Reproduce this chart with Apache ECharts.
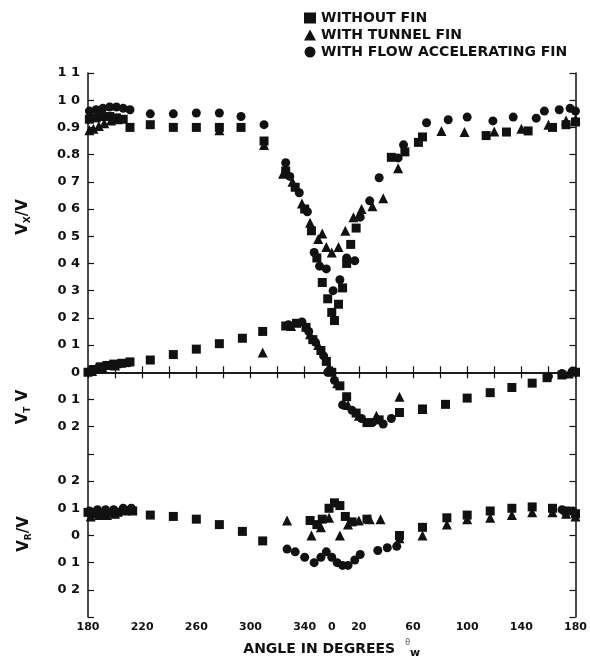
<!DOCTYPE html>
<html>
<head>
    <meta charset="UTF-8">
    <title>Velocity components vs angle</title>
    <script src="https://cdn.jsdelivr.net/npm/echarts@6.0.0/dist/echarts.min.js"></script>
    <style>
        html, body { margin: 0; padding: 0; background: #fff; }
    </style>
</head>
<body>
<div id="main" style="width: 590px;height:664px;"></div>
<script type="text/javascript">
    // angle is unwrapped: 180..359 then 360 (=0) .. 540 (=180)
    var xTickLabels = ['180', '', '220', '', '260', '', '300', '', '340', '0', '20', '', '60', '', '100', '', '140', '', '180'];
    // y tick labels from -0.9 (bottom) up to 1.1 (top), VT shares the Vx scale, VR is shifted down 0.6
    var yTickLabels = ['', '0 2', '0 1', '0', '0 1', '0 2', '', '0 2', '0 1', '0', '0 1', '0 2', '0 3', '0 4', '0 5', '0 6', '0 7', '0.8', '0.9', '1 0', '1 1'];
    var VR_OFFSET = -0.6;

    var names = ['WITHOUT FIN', 'WITH TUNNEL FIN', 'WITH FLOW ACCELERATING FIN'];

    // Vx/V
    var vxWithoutFin = [[181, 0.93], [186, 0.935], [191, 0.94], [196, 0.94], [201, 0.935], [206, 0.93], [211, 0.90], [226, 0.91], [243, 0.90], [260, 0.90], [277, 0.90], [293, 0.90], [310, 0.85], [326, 0.74], [333, 0.68], [340, 0.60], [345, 0.52], [349, 0.42], [353, 0.33], [357, 0.27], [360, 0.22], [362, 0.19], [365, 0.25], [368, 0.31], [371, 0.40], [374, 0.47], [378, 0.53], [404, 0.79], [414, 0.81], [424, 0.845], [427, 0.865], [474, 0.87], [489, 0.883], [505, 0.887], [523, 0.90], [533, 0.91], [540, 0.92]];
    var vxTunnelFin = [[181, 0.89], [184, 0.895], [188, 0.905], [192, 0.915], [197, 0.925], [202, 0.93], [277, 0.89], [310, 0.835], [324, 0.73], [331, 0.70], [338, 0.62], [344, 0.55], [350, 0.49], [353, 0.51], [356, 0.46], [360, 0.44], [365, 0.46], [370, 0.52], [376, 0.57], [382, 0.60], [390, 0.61], [398, 0.64], [409, 0.75], [441, 0.887], [458, 0.883], [480, 0.885], [500, 0.895], [520, 0.91], [533, 0.925], [540, 0.93]];
    var vxFlowFin = [[181, 0.96], [186, 0.965], [191, 0.97], [196, 0.975], [201, 0.975], [206, 0.97], [211, 0.965], [226, 0.95], [243, 0.95], [260, 0.953], [277, 0.953], [293, 0.94], [310, 0.91], [326, 0.77], [329, 0.72], [336, 0.66], [342, 0.59], [347, 0.44], [351, 0.39], [356, 0.38], [361, 0.30], [366, 0.34], [371, 0.42], [377, 0.41], [381, 0.57], [388, 0.63], [395, 0.715], [409, 0.788], [413, 0.836], [430, 0.917], [446, 0.928], [460, 0.938], [479, 0.924], [494, 0.938], [511, 0.934], [517, 0.96], [528, 0.965], [536, 0.97], [540, 0.96]];

    // VT/V
    var vtWithoutFin = [[180, 0.0], [184, 0.01], [189, 0.02], [194, 0.025], [199, 0.03], [205, 0.033], [211, 0.038], [226, 0.045], [243, 0.065], [260, 0.085], [277, 0.105], [294, 0.125], [309, 0.15], [326, 0.17], [334, 0.18], [341, 0.165], [346, 0.12], [352, 0.08], [356, 0.04], [360, 0.0], [366, -0.05], [371, -0.09], [378, -0.15], [386, -0.185], [395, -0.175], [410, -0.148], [427, -0.135], [444, -0.118], [460, -0.095], [477, -0.075], [493, -0.056], [508, -0.04], [519, -0.02], [530, -0.01], [540, 0.0]];
    var vtTunnelFin = [[183, 0.005], [191, 0.015], [200, 0.025], [309, 0.073], [330, 0.17], [344, 0.14], [350, 0.10], [358, 0.02], [364, -0.04], [372, -0.12], [380, -0.16], [393, -0.16], [410, -0.09], [427, -0.135], [535, -0.005]];
    var vtFlowFin = [[182, 0.005], [187, 0.015], [195, 0.025], [203, 0.03], [210, 0.035], [328, 0.175], [338, 0.185], [343, 0.15], [348, 0.11], [354, 0.06], [357, 0.0], [362, -0.03], [368, -0.12], [375, -0.14], [382, -0.17], [390, -0.185], [398, -0.19], [404, -0.17], [520, -0.015], [530, -0.005], [538, 0.005]];

    // VR/V
    var vrWithoutFin = [[180, 0.085], [185, 0.08], [190, 0.08], [196, 0.085], [202, 0.085], [208, 0.09], [213, 0.09], [226, 0.075], [243, 0.07], [260, 0.06], [277, 0.04], [294, 0.015], [309, -0.02], [344, 0.055], [349, 0.04], [353, 0.06], [358, 0.1], [362, 0.12], [366, 0.11], [370, 0.07], [375, 0.05], [386, 0.06], [410, 0.0], [427, 0.03], [445, 0.065], [460, 0.075], [477, 0.09], [493, 0.1], [508, 0.105], [523, 0.1], [533, 0.09], [540, 0.08]];
    var vrTunnelFin = [[182, 0.07], [188, 0.075], [194, 0.075], [200, 0.08], [327, 0.055], [345, 0.0], [352, 0.03], [358, 0.065], [366, 0.0], [372, 0.04], [380, 0.055], [388, 0.06], [396, 0.06], [410, -0.01], [427, 0.0], [445, 0.04], [460, 0.06], [477, 0.065], [493, 0.075], [508, 0.085], [523, 0.085], [533, 0.08], [540, 0.07]];
    var vrFlowFin = [[181, 0.09], [187, 0.095], [193, 0.095], [199, 0.095], [206, 0.1], [212, 0.1], [327, -0.05], [333, -0.06], [340, -0.08], [347, -0.1], [352, -0.08], [356, -0.06], [360, -0.08], [364, -0.1], [368, -0.11], [372, -0.11], [377, -0.09], [381, -0.07], [394, -0.055], [401, -0.045], [408, -0.04], [530, 0.095], [538, 0.09]];

    var FONT = 'DejaVu Sans';
    var INK = '#111';

    function mk(idx, symbol, size, data, offset) {
        return {
            name: names[idx],
            type: 'scatter',
            symbol: symbol,
            symbolSize: size,
            itemStyle: {color: INK, opacity: 1},
            data: data.map(function (p) {
                return [p[0], p[1] + offset];
            })
        };
    }

    function yName(x, y, sub, sep) {
        return {
            type: 'text',
            x: x,
            y: y,
            rotation: Math.PI / 2,
            style: {
                text: '{v|V}{s|' + sub + '}{v|' + sep + 'V}',
                align: 'center',
                verticalAlign: 'middle',
                fill: INK,
                rich: {
                    v: {fontFamily: FONT, fontWeight: 'bold', fontSize: 15, fill: INK, lineHeight: 18},
                    s: {fontFamily: FONT, fontWeight: 'bold', fontSize: 9, fill: INK, lineHeight: 18, verticalAlign: 'bottom', padding: [8, 0, 0, 0]}
                }
            }
        };
    }

    var axisLine = {lineStyle: {color: INK, width: 1.5}};
    var axisTick = {inside: true, length: 6, lineStyle: {color: INK, width: 1.2}};

    echarts.init(document.getElementById('main')).setOption({
        animation: false,
        backgroundColor: '#fff',
        grid: {left: 88, right: 12, top: 73, bottom: 46},
        legend: {
            orient: 'vertical',
            left: 299,
            top: 6,
            itemGap: 3,
            itemWidth: 12,
            itemHeight: 11,
            textStyle: {fontFamily: FONT, fontWeight: 'bold', fontSize: 14, color: INK},
            data: [
                {name: names[0], icon: 'rect'},
                {name: names[1], icon: 'triangle'},
                {name: names[2], icon: 'circle'}
            ]
        },
        xAxis: [{
            type: 'value',
            position: 'bottom',
            min: 180,
            max: 540,
            interval: 20,
            axisLine: axisLine,
            axisTick: axisTick,
            splitLine: {show: false},
            axisLabel: {
                interval: 0,
                margin: 5,
                color: INK,
                fontFamily: FONT,
                fontWeight: 'bold',
                fontSize: 11,
                formatter: function (v) {
                    return xTickLabels[Math.round((v - 180) / 20)];
                }
            },
            name: '{a|ANGLE IN DEGREES}   {b|θ}{c|w}',
            nameLocation: 'middle',
            nameGap: 20,
            nameTextStyle: {
                rich: {
                    a: {fontFamily: FONT, fontWeight: 'bold', fontSize: 14, color: INK, lineHeight: 20},
                    b: {fontFamily: FONT, fontSize: 8, color: '#555', lineHeight: 20, verticalAlign: 'top'},
                    c: {fontFamily: FONT, fontWeight: 'bold', fontSize: 11, color: INK, lineHeight: 20, verticalAlign: 'bottom', padding: [10, 0, 0, 0]}
                }
            }
        }, {
            type: 'value',
            position: 'top',
            min: 180,
            max: 540,
            interval: 20,
            axisLine: axisLine,
            axisTick: axisTick,
            axisLabel: {show: false},
            splitLine: {show: false}
        }],
        yAxis: [{
            type: 'value',
            position: 'left',
            min: -0.9,
            max: 1.1,
            interval: 0.1,
            axisLine: axisLine,
            axisTick: axisTick,
            splitLine: {show: false},
            axisLabel: {
                interval: 0,
                margin: 8,
                color: INK,
                fontFamily: FONT,
                fontWeight: 'bold',
                fontSize: 13,
                formatter: function (v) {
                    return yTickLabels[Math.round((v + 0.9) * 10)];
                }
            }
        }, {
            type: 'value',
            position: 'right',
            min: -0.9,
            max: 1.1,
            interval: 0.1,
            axisLine: axisLine,
            axisTick: axisTick,
            axisLabel: {show: false},
            splitLine: {show: false}
        }],
        graphic: [
            yName(23, 217, 'X', '/'),
            yName(23, 407, 'T', ' '),
            yName(24, 534, 'R', '/')
        ],
        series: [
            mk(0, 'rect', 9, vxWithoutFin, 0),
            mk(1, 'triangle', 10, vxTunnelFin, 0),
            mk(2, 'circle', 9, vxFlowFin, 0),
            mk(0, 'rect', 9, vtWithoutFin, 0),
            mk(1, 'triangle', 10, vtTunnelFin, 0),
            mk(2, 'circle', 9, vtFlowFin, 0),
            mk(0, 'rect', 9, vrWithoutFin, VR_OFFSET),
            mk(1, 'triangle', 10, vrTunnelFin, VR_OFFSET),
            mk(2, 'circle', 9, vrFlowFin, VR_OFFSET)
        ]
    });
</script>
</body>
</html>
